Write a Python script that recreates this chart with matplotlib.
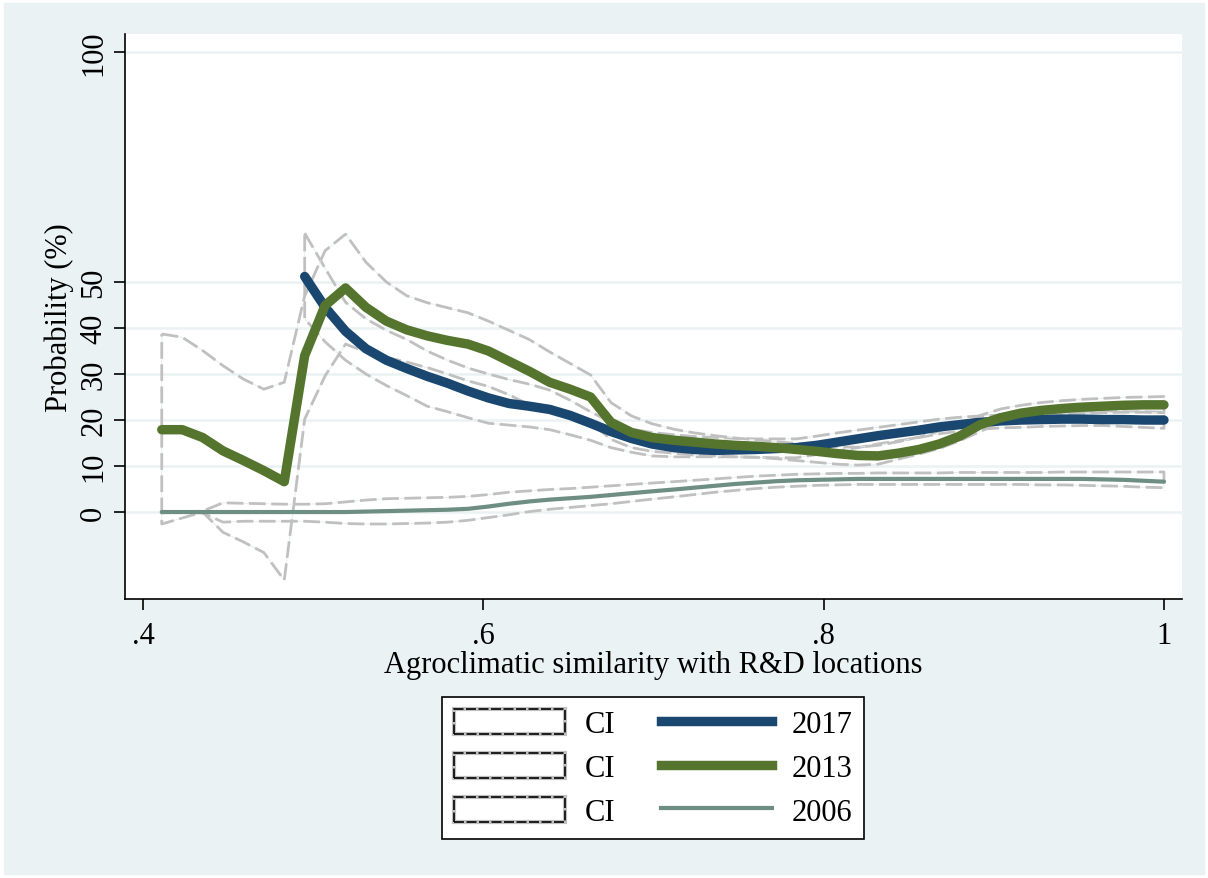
import numpy as np
import matplotlib
matplotlib.use('Agg')
import matplotlib.pyplot as plt
from matplotlib.patches import Rectangle, Patch
from matplotlib.lines import Line2D

plt.rcParams['font.family'] = ['Liberation Serif', 'DejaVu Serif']

# agroclimatic similarity grid
sim = [0.411, 0.423, 0.435, 0.447, 0.459, 0.471, 0.483, 0.495, 0.507, 0.519,
       0.531, 0.543, 0.555, 0.567, 0.579, 0.591, 0.603, 0.615, 0.627, 0.639,
       0.651, 0.663, 0.675, 0.687, 0.699, 0.712, 0.724, 0.736, 0.748, 0.760,
       0.772, 0.784, 0.796, 0.808, 0.820, 0.832, 0.844, 0.856, 0.868, 0.880,
       0.892, 0.904, 0.916, 0.928, 0.940, 0.952, 0.964, 0.976, 0.988, 1.000]

# 2017 starts at the 8th grid point
p2017 = [51.2, 44.5, 39.3, 35.5, 33.0, 31.2, 29.5, 28.0, 26.3, 24.8,
         23.6, 23.0, 22.3, 21.0, 19.3, 17.5, 16.0, 14.8, 14.0, 13.6,
         13.4, 13.5, 13.6, 13.8, 14.0, 14.5, 15.2, 15.9, 16.6, 17.2,
         17.8, 18.5, 19.0, 19.5, 19.8, 20.0, 20.1, 20.2, 20.2, 20.1,
         20.1, 20.0, 20.0]
hi2017 = [60.6, 53.0, 45.6, 42.0, 39.5, 37.5, 35.0, 33.0, 31.3, 30.0,
          28.8, 27.8, 26.5, 24.3, 21.8, 19.5, 18.0, 17.3, 16.8, 16.4,
          16.2, 16.0, 15.9, 15.9, 15.9, 16.5, 17.2, 17.8, 18.4, 19.0,
          19.6, 20.2, 20.6, 20.9, 21.1, 21.3, 21.5, 21.6, 21.7, 21.8,
          21.8, 21.8, 21.7]
lo2017 = [42.0, 37.0, 33.0, 30.0, 27.5, 25.3, 23.0, 21.8, 20.5, 19.3,
          18.9, 18.5, 17.9, 16.8, 15.6, 14.0, 13.0, 12.2, 12.0, 12.0,
          12.0, 12.0, 11.9, 11.8, 11.8, 12.5, 13.3, 14.0, 14.8, 15.5,
          16.2, 17.0, 17.6, 18.0, 18.3, 18.4, 18.6, 18.7, 18.8, 18.8,
          18.6, 18.4, 18.2]

p2013 = [17.9, 17.9, 16.2, 13.3, 11.2, 9.0, 6.6, 34.0, 44.9, 48.7,
         44.5, 41.5, 39.6, 38.3, 37.3, 36.5, 35.0, 32.8, 30.6, 28.2,
         26.7, 25.0, 19.5, 17.3, 16.2, 15.6, 15.2, 14.8, 14.5, 14.3,
         14.0, 13.6, 13.2, 12.7, 12.3, 12.2, 12.8, 13.6, 14.8, 16.5,
         19.0, 20.5, 21.5, 22.1, 22.5, 22.8, 23.0, 23.2, 23.3, 23.3]
hi2013 = [38.7, 38.0, 35.1, 31.8, 28.9, 26.7, 28.2, 47.0, 56.8, 60.4,
          54.3, 50.0, 47.0, 45.5, 44.4, 43.3, 41.5, 39.5, 37.5, 34.8,
          32.3, 29.8, 23.8, 20.9, 19.2, 18.0, 17.2, 16.6, 16.1, 15.7,
          15.3, 14.9, 14.5, 14.2, 14.1, 14.5, 15.3, 16.3, 17.6, 19.2,
          21.0, 22.4, 23.2, 23.8, 24.2, 24.5, 24.7, 24.9, 25.0, 25.1]
lo2013 = [-2.6, -1.3, 0.0, -4.4, -6.5, -8.8, -14.8, 20.2, 29.6, 36.5,
          34.8, 33.6, 32.6, 31.4, 30.0, 28.5, 27.3, 25.5, 23.3, 21.9,
          20.8, 19.5, 15.8, 14.0, 13.2, 12.8, 12.4, 12.2, 12.0, 11.9,
          11.6, 11.2, 10.8, 10.4, 10.2, 10.4, 11.5, 12.6, 13.8, 15.5,
          17.5, 19.5, 20.6, 21.0, 21.3, 21.5, 21.6, 21.7, 21.7, 21.6]

p2006 = [0.0, 0.0, 0.0, 0.0, 0.0, 0.0, 0.0, 0.0, 0.0, 0.0,
         0.1, 0.2, 0.3, 0.4, 0.5, 0.7, 1.2, 1.8, 2.3, 2.7,
         3.0, 3.3, 3.7, 4.1, 4.5, 4.9, 5.3, 5.7, 6.1, 6.4,
         6.7, 6.9, 7.0, 7.1, 7.2, 7.2, 7.2, 7.2, 7.2, 7.2,
         7.2, 7.2, 7.2, 7.2, 7.2, 7.2, 7.1, 7.0, 6.8, 6.6]
hi2006 = [0.0, 0.0, 0.2, 2.0, 1.9, 1.8, 1.7, 1.7, 1.8, 2.2,
          2.6, 2.9, 3.0, 3.1, 3.2, 3.4, 3.8, 4.3, 4.6, 4.9,
          5.1, 5.4, 5.7, 6.0, 6.3, 6.6, 6.9, 7.2, 7.5, 7.8,
          8.0, 8.2, 8.3, 8.4, 8.4, 8.5, 8.5, 8.5, 8.5, 8.6,
          8.6, 8.6, 8.6, 8.6, 8.7, 8.7, 8.7, 8.7, 8.7, 8.7]
lo2006 = [0.0, 0.0, -0.2, -2.2, -2.0, -2.0, -2.0, -2.0, -2.2, -2.5,
          -2.6, -2.6, -2.5, -2.4, -2.2, -1.8, -1.2, -0.6, 0.1, 0.6,
          1.0, 1.4, 1.8, 2.3, 2.8, 3.3, 3.8, 4.3, 4.7, 5.1,
          5.4, 5.6, 5.8, 5.9, 6.0, 6.0, 6.0, 6.0, 6.0, 6.0,
          6.0, 6.0, 6.0, 5.9, 5.9, 5.8, 5.7, 5.6, 5.4, 5.3]

yticks = [0, 10, 20, 30, 40, 50, 100]
xticks = [0.4, 0.6, 0.8, 1.0]
xticklabels = ['.4', '.6', '.8', '1']

c2017 = '#1a476f'
c2013 = '#55752f'
c2006 = '#6e8e84'
cci = '#c0c0c0'
bg = '#eaf2f3'
fs = 22


def draw_ci(ax, x, lo, hi):
    # closed outline of the band: upper forward, lower back
    xs = list(x) + list(x[::-1]) + [x[0]]
    ys = list(hi) + list(lo[::-1]) + [hi[0]]
    ax.plot(xs, ys, color='#e2ecee', lw=0.6, zorder=2)
    ax.plot(xs, ys, color=cci, lw=2.0, ls=(0, (6, 2)), zorder=2)


fig = plt.figure(figsize=(12.08, 8.79), dpi=100, facecolor='white')
fig.patches.append(Rectangle((0.003, 0.004), 0.994, 0.992, transform=fig.transFigure,
                             color=bg, zorder=-10))
ax = fig.add_axes([125/1208, 1-600/879, (1182-125)/1208, (600-35)/879])
ax.set_facecolor('white')

x = np.array(sim)
x17 = x[7:]
draw_ci(ax, x17, np.array(lo2017), np.array(hi2017))
ax.plot(x17, p2017, color=c2017, lw=6.8, solid_capstyle='round', solid_joinstyle='round', zorder=3)
draw_ci(ax, x, np.array(lo2013), np.array(hi2013))
ax.plot(x, p2013, color=c2013, lw=6.8, solid_capstyle='round', solid_joinstyle='round', zorder=3)
draw_ci(ax, x, np.array(lo2006), np.array(hi2006))
ax.plot(x, p2006, color=c2006, lw=3, solid_capstyle='round', zorder=3)

ax.set_xlim(0.3894, 1.0106)
ax.set_ylim(-18.9, 103.9)
ax.set_yticks(yticks)
ax.set_yticklabels([str(t) for t in yticks], rotation=90, va='center', fontsize=fs)
ax.set_xticks(xticks)
ax.set_xticklabels(xticklabels, fontsize=fs)
ax.tick_params(axis='both', direction='out', length=8, width=1.2, color='black')
ax.tick_params(axis='y', pad=4)
ax.tick_params(axis='x', pad=8)
for t in yticks:
    ax.axhline(t, color=bg, lw=1.8, zorder=0)
for s in ['top', 'right']:
    ax.spines[s].set_visible(False)
for s in ['left', 'bottom']:
    ax.spines[s].set_linewidth(1.2)

ax.set_xlabel('Agroclimatic similarity with R&D locations', fontsize=fs, labelpad=0)
ax.set_ylabel('Probability (%)', fontsize=fs, labelpad=4)

# legend: CI boxes in the left column, year lines on the right
def ci_handle():
    return (Patch(facecolor='white', edgecolor=cci, lw=3),
            Patch(facecolor='none', edgecolor='black', lw=1.2, ls=(0, (6, 1.5))))

handles = [ci_handle(), ci_handle(), ci_handle(),
           Line2D([], [], color=c2017, lw=6.8),
           Line2D([], [], color=c2013, lw=6.8),
           Line2D([], [], color=c2006, lw=3)]
labels = ['CI', 'CI', 'CI', '2017', '2013', '2006']
leg = fig.legend(handles, labels, ncol=2, loc='center',
                 bbox_to_anchor=(653/1208, 1-769/879), fontsize=fs,
                 handlelength=3.65, handleheight=0.9, handletextpad=0.62,
                 columnspacing=1.5, labelspacing=0.45, borderpad=0.4,
                 frameon=True, fancybox=False, edgecolor='black', facecolor='white',
                 framealpha=1)
leg.get_frame().set_linewidth(1.2)

fig.savefig('out.png', dpi=100, facecolor=fig.get_facecolor())
